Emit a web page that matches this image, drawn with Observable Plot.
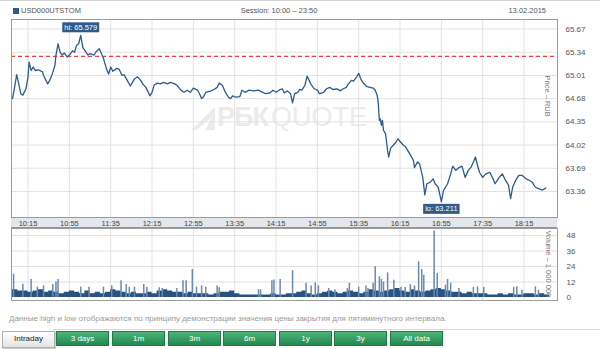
<!DOCTYPE html>
<html><head><meta charset="utf-8">
<script src="https://cdn.jsdelivr.net/npm/d3@7"></script>
<script src="https://cdn.jsdelivr.net/npm/@observablehq/plot@0.6"></script>
<style>
body{margin:0;background:#fff;font-family:"Liberation Sans",Arial,sans-serif;}
#wrap{position:relative;width:600px;height:349px;overflow:hidden;background:#fff;}
.abs{position:absolute;white-space:nowrap;}
.hdr{font-size:7.5px;color:#555;line-height:10px;}
#band{left:11px;top:217px;width:546px;height:11px;background:#e3e7ec;border-top:1px solid #8e959d;border-bottom:1px solid #8e959d;box-sizing:border-box;}
#wm{left:191px;top:104px;height:27px;display:flex;align-items:flex-end;color:#ebebeb;font-size:27px;line-height:27px;}
#logo{width:24px;height:23px;background:#ebebeb;clip-path:polygon(0 100%,100% 0,100% 100%,60% 100%,85% 45%,25% 100%);margin-right:2px;margin-bottom:1px;}
.btn{top:331px;height:15px;width:53px;box-sizing:border-box;font-size:8px;line-height:13px;text-align:center;color:#fff;background:linear-gradient(#4cb577,#22884f);border:1px solid #1e7b46;}
#intra{color:#222;background:linear-gradient(#ffffff,#e4e4e4);border:1px solid #b0b0b0;height:17px;box-shadow:1px 1px 1px #ccc;}
svg{overflow:visible;}
</style></head>
<body><div id="wrap">
<div class="abs" style="left:0;top:0;width:600px;height:1px;background:#d2d2d2"></div>
<div class="abs" style="left:13px;top:8px;width:6px;height:6px;background:#2d5a88"></div>
<div class="abs hdr" style="left:21px;top:6px">USD000UTSTOM</div>
<div class="abs hdr" style="left:0;width:558px;top:6px;text-align:center">Session: 10:00 – 23:50</div>
<div class="abs hdr" style="right:54px;top:6px">13.02.2015</div>
<div id="band" class="abs"></div>
<div id="wm" class="abs"><div id="logo"></div><span style="font-weight:bold;letter-spacing:-1px">РБК</span><span style="margin-left:3px">QUOTE</span></div>
<div id="pp" class="abs" style="left:0;top:0"></div>
<div id="vp" class="abs" style="left:0;top:228px"></div>
<div class="abs" style="left:9px;top:314px;font-size:8px;color:#9a9a9a">Данные high и low отображаются по принципу демонстрации значения цены закрытия для пятиминутного интервала.</div>
<div class="abs" style="left:53px;top:329px;width:547px;height:1px;background:#dadada"></div>
<div id="btns"></div>
</div>
<script>
// ---- data ----
const sessionStart = 600; // 10:00 in minutes
const xTickLabels = ["10:15","10:55","11:35","12:15","12:55","13:35","14:15","14:55","15:35","16:15","16:55","17:35","18:15"];
const priceTickLabels = [63.36,63.69,64.02,64.35,64.68,65.01,65.34,65.67];
const volumeTickLabels = [0,12,24,36,48];
const prevClose = 65.28;
const priceMinute = [
  0,2,4,6,8,10,13,15,16,18,
  20,22,25,29,30,34,36,38,41,42,
  44,46,48,50,53,55,58,60,62,64,
  66,68,71,73,75,79,81,84,86,88,
  91,93,95,97,101,103,106,108,111,114,
  116,118,121,124,126,129,131,133,135,137,
  140,143,146,150,153,157,159,163,166,169,
  172,175,179,181,183,185,187,192,195,198,
  200,203,206,209,211,213,216,220,222,225,
  229,233,238,242,245,249,252,255,258,261,
  263,266,269,271,273,276,278,280,283,285,
  287,289,292,295,297,301,304,307,310,314,
  317,320,323,325,328,330,333,335,337,339,
  343,346,349,351,353,354,355,356,357,358,
  359,361,362,363,364,366,368,371,373,375,
  378,380,383,385,388,389,392,394,397,399,
  401,404,407,409,412,415,417,421,424,426,
  429,432,435,438,441,444,446,448,450,452,
  455,458,462,465,467,471,474,477,480,482,
  484,487,490,493,497,500,503,506,509,513,
  516];
const priceValue = [
  64.68,64.84,65.02,64.89,64.75,64.73,64.82,64.99,65.20,65.08,
  65.13,65.08,65.09,65.06,65.01,64.89,64.94,65.01,65.15,65.29,
  65.46,65.34,65.30,65.33,65.27,65.30,65.36,65.34,65.44,65.46,
  65.579,65.41,65.34,65.30,65.32,65.30,65.35,65.39,65.32,65.25,
  65.10,65.03,65.13,65.07,65.11,65.10,65.01,65.02,64.94,64.86,
  64.91,64.96,64.99,64.94,64.89,64.84,64.78,64.72,64.77,64.87,
  64.90,64.89,64.91,64.89,64.91,64.89,64.87,64.80,64.77,64.80,
  64.77,64.83,64.80,64.75,64.68,64.71,64.77,64.79,64.81,64.84,
  64.90,64.87,64.77,64.70,64.68,64.72,64.70,64.71,64.80,64.77,
  64.80,64.79,64.80,64.77,64.75,64.76,64.80,64.77,64.80,64.82,
  64.76,64.79,64.75,64.62,64.75,64.77,64.81,64.80,64.87,65.00,
  64.94,64.88,64.82,64.80,64.75,64.77,64.82,64.84,64.81,64.82,
  64.79,64.82,64.84,64.89,64.94,64.93,64.99,65.04,64.96,64.91,
  64.85,64.84,64.83,64.80,64.72,64.61,64.37,64.39,64.30,64.37,
  64.23,64.18,64.06,63.94,63.85,63.98,64.01,64.06,64.11,64.07,
  64.02,64.00,63.93,63.88,63.80,63.70,63.78,63.75,63.56,63.31,
  63.47,63.49,63.54,63.47,63.42,63.211,63.37,63.47,63.61,63.72,
  63.66,63.70,63.72,63.56,63.66,63.71,63.78,63.85,63.73,63.63,
  63.56,63.61,63.63,63.54,63.47,63.56,63.61,63.52,63.45,63.26,
  63.42,63.52,63.59,63.59,63.54,63.52,63.49,63.42,63.40,63.38,
  63.41];
// volume (millions): 5-minute base level from 10:00
const volumeBase = [
  6,5,5,4,5,6,4,5,4,3,4,5,
  4,3,5,3,4,3,4,6,5,4,3,4,
  3,3,4,3,5,6,5,4,4,3,4,3,
  3,3,2,3,4,4,5,3,2,2,2,2,
  2,2,3,2,2,3,3,4,5,3,2,3,
  4,5,4,3,4,5,4,3,4,6,5,4,
  5,6,7,5,4,6,5,4,5,6,7,6,
  5,4,4,3,4,3,3,3,2,2,3,2,
  3,2,2,3,3,2,3,2,2];
// individual one-minute volume spikes
const spikeMinute = [
  1,10,18,24,30,39,42,44,66,74,
  88,96,105,110,113,118,127,130,142,145,
  159,165,168,174,178,183,187,198,200,238,
  240,251,253,259,271,284,289,293,296,306,
  312,324,326,335,342,344,349,351,355,357,
  359,363,369,376,380,385,389,393,396,398,
  408,411,419,421,424,432,446,450,456,485,
  488,493,506,509];
const spikeValue = [
  18,10.3,14,8,9,10,12,14,8,8,
  8,9,13,10,8,8,10,8,7.5,7,
  7,13,13,21.7,8,9,8,9,7.5,6,
  6,13,13.5,14,20.7,11,9,11.4,9,7,
  6,7,11,8,9,7,11,23.8,16,14,
  12,19,13.4,8,7.8,10,9,27.6,21.7,17.3,
  51.5,18.6,9.6,14,11,7,7.8,8.3,7.8,7.8,
  8.3,5.7,8.3,5.7];
const buttonLabels = ["Intraday","3 days","1m","3m","6m","1y","3y","All data"];

// ---- build ----
const toMin = s => { const [h, m] = s.split(":").map(Number); return h * 60 + m; };
const fmtMin = t => `${Math.floor(t / 60)}:${String(t % 60).padStart(2, "0")}`;
const xTicks = xTickLabels.map(toMin);
const priceRows = priceMinute.map((m, i) => ({t: sessionStart + m, p: priceValue[i]}));
const baseRows = volumeBase.map((v, i) => ({t: sessionStart + i * 5, v}));
const spikeRows = spikeMinute.map((m, i) => ({t: sessionStart + m, v: spikeValue[i]}));
const hi = d3.greatest(priceRows, d => d.p);
const lo = d3.least(priceRows, d => d.p);
const hiRows = [{t: hi.t, p: hi.p, label: "hi: " + hi.p.toFixed(3)}];
const loRows = [{t: lo.t, p: lo.p, label: "lo: " + lo.p.toFixed(3)}];
const xDomain = [599, 1127.4];
const font = '"Liberation Sans", Arial, sans-serif';
const gridColor = "#e2e2e2";

const priceChart = Plot.plot({
  width: 600, height: 229,
  marginLeft: 11, marginRight: 43, marginTop: 19, marginBottom: 12,
  style: {background: "transparent", fontFamily: font, fontSize: "7.5px", color: "#555", overflow: "visible"},
  x: {domain: xDomain, label: null},
  y: {domain: [62.99, 65.805], label: null},
  marks: [
    Plot.ruleX(xTicks, {stroke: gridColor, strokeWidth: 1}),
    Plot.ruleY(priceTickLabels, {stroke: gridColor, strokeWidth: 1}),
    Plot.ruleY([prevClose], {stroke: "#ef3b36", strokeWidth: 1.3, strokeDasharray: "4,3"}),
    Plot.line(priceRows, {x: "t", y: "p", stroke: "#2c5b8c", strokeWidth: 1.3}),
    Plot.axisY({anchor: "right", label: null, ticks: priceTickLabels, tickSize: 0, tickPadding: 8, tickFormat: d => d.toFixed(2), fontSize: 8}),
    Plot.axisX({anchor: "bottom", label: null, ticks: xTicks, tickSize: 0, tickPadding: 3, tickFormat: fmtMin, fill: "#444"}),
    Plot.text(["Price – RUB"], {frameAnchor: "top-right", rotate: 90, dx: -7, dy: 56, textAnchor: "start", fill: "#777"}),
    Plot.text(hiRows, {x: "t", y: "p", text: "label", dy: -8, fill: "white", fontSize: 7.5}),
    Plot.text(loRows, {x: "t", y: "p", text: "label", dy: 7, fill: "white", fontSize: 7.5}),
    Plot.frame({stroke: "#9b9b9b"})
  ]
});
document.getElementById("pp").appendChild(priceChart);

// boxes behind hi/lo labels (sized from the rendered label text)
const hiloTexts = new Set([hiRows[0].label, loRows[0].label]);
d3.select(priceChart).selectAll("text").each(function () {
  if (!hiloTexts.has(this.textContent)) return;
  const b = this.getBBox();
  const r = document.createElementNS("http://www.w3.org/2000/svg", "rect");
  r.setAttribute("x", b.x - 2); r.setAttribute("y", b.y - 0.5);
  r.setAttribute("width", b.width + 4); r.setAttribute("height", b.height + 1);
  r.setAttribute("fill", "#2d5b8a");
  if (this.getAttribute("transform")) r.setAttribute("transform", this.getAttribute("transform"));
  this.parentNode.insertBefore(r, this);
});

const volChart = Plot.plot({
  width: 600, height: 73,
  marginLeft: 11, marginRight: 43, marginTop: 0, marginBottom: 1,
  style: {background: "transparent", fontFamily: font, fontSize: "7.5px", color: "#555", overflow: "visible"},
  x: {domain: xDomain, axis: null},
  y: {domain: [-2.32, 53.42], label: null},
  marks: [
    Plot.ruleX(xTicks, {stroke: gridColor}),
    Plot.ruleY(volumeTickLabels.slice(1), {stroke: gridColor}),
    Plot.areaY(baseRows, {x: "t", y: "v", curve: "step-after", fill: "#2a5281"}),
    Plot.ruleX(spikeRows, {x: "t", y1: 0, y2: "v", stroke: "#6a8ab0", strokeWidth: 1.5}),
    Plot.axisY({anchor: "right", label: null, ticks: volumeTickLabels, tickSize: 0, tickPadding: 9, fontSize: 8}),
    Plot.text(["Volume – 1 000 000"], {frameAnchor: "top-right", rotate: 90, dx: -6, dy: 2, textAnchor: "start", fill: "#777"}),
    Plot.frame({stroke: "#9b9b9b"})
  ]
});
document.getElementById("vp").appendChild(volChart);

// buttons
const btnX = [2, 56, 112, 168, 223, 279, 334, 390];
const wrapBtns = document.getElementById("btns");
buttonLabels.forEach((b, i) => {
  const d = document.createElement("div");
  d.className = "abs btn";
  if (i === 0) d.id = "intra";
  d.style.left = btnX[i] + "px";
  d.textContent = b;
  wrapBtns.appendChild(d);
});
</script>
</body></html>
